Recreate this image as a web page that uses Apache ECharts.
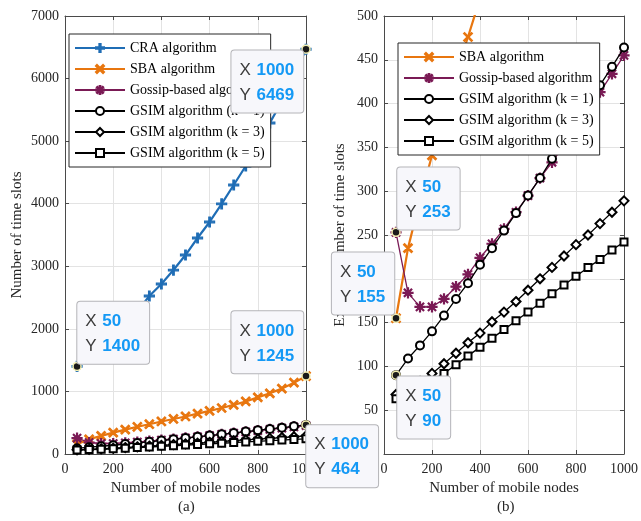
<!DOCTYPE html>
<html>
<head>
<meta charset="utf-8">
<script src="https://cdn.jsdelivr.net/npm/echarts@6/dist/echarts.min.js"></script>
<style>html,body{margin:0;padding:0;background:#fff}#c{width:641px;height:521px}</style>
</head>
<body>
<div id="c"></div>
<script>
const xNodes = [50,100,150,200,250,300,350,400,450,500,550,600,650,700,750,800,850,900,950,1000];
const craSlots = [1400,1560,1720,1880,2050,2280,2525,2717,2940,3180,3452,3708,3996,4299,4603,4938,5290,5640,6040,6469];
const sbaSlots = [155,235,290,341,390,435,476,520,560,600,645,690,735,785,840,905,970,1045,1140,1245];
const gossipSlots = [253,184,168,168,177,191,205,224,240,257,276,295,315,333,353,373,393,413,434,455];
const gsimK1 = [90,109,124,140,158,177,195,216,235,255,275,295,315,337,358,378,400,421,442,464];
const gsimK3 = [68,75,83,92,103,115,127,138,151,162,174,187,200,213,226,239,250,263,276,289];
const gsimK5 = [63,70,76,84,92,102,112,122,132,142,152,162,172,183,193,203,213,222,233,242];
const tipsLeft = [[1000,6469],[50,1400],[1000,1245],[1000,464]];
const tipsRight = [[50,253],[50,155],[50,90]];
const names = ['CRA algorithm','SBA algorithm','Gossip-based algorithm','GSIM algorithm (k = 1)','GSIM algorithm (k = 3)','GSIM algorithm (k = 5)'];

const serif = 'Liberation Serif';
const axCol = '#262626';
const lineCol = '#4a4a4a';
const pair = arr => xNodes.map((x,i)=>[x,arr[i]]);
const plain = v => String(v);

const PLUS = 'path://M4.2,0 L5.8,0 L5.8,10 L4.2,10 Z M0,4.2 L10,4.2 L10,5.8 L0,5.8 Z';
const CROSS = 'path://M0,1.2 L1.2,0 L10,8.8 L8.8,10 Z M8.8,0 L10,1.2 L1.2,10 L0,8.8 Z';
const STAR = 'path://M0,4.5 L10,4.5 L10,5.5 L0,5.5 Z M4.5,0 L5.5,0 L5.5,10 L4.5,10 Z M1,1.7 L1.7,1 L9,8.3 L8.3,9 Z M8.3,1 L9,1.7 L1.7,9 L1,8.3 Z';

const styles = [
  {color:'#1F6DB5', width:2.2, symbol:PLUS, size:10},
  {color:'#E8760F', width:2.2, symbol:CROSS, size:9},
  {color:'#7A1A55', width:1.3, symbol:STAR, size:10},
  {color:'#000000', width:1.3, symbol:'emptyCircle', size:8},
  {color:'#000000', width:1.3, symbol:'emptyDiamond', size:9},
  {color:'#000000', width:1.3, symbol:'emptyRect', size:7}
];
const dataSets = [craSlots, sbaSlots, gossipSlots, gsimK1, gsimK3, gsimK5];

function lineSeries(k, gi){
  const s = styles[k];
  return {
    type:'line', name:names[k], xAxisIndex:gi*2, yAxisIndex:gi*2,
    data: pair(dataSets[k]), symbol:s.symbol, symbolSize:s.size, showAllSymbol:true,
    lineStyle:{color:s.color, width:s.width}, itemStyle:{color:s.color, borderColor:s.color, borderWidth:1.2},
    emphasis:{disabled:true}, animation:false, z:2+k*0.01
  };
}

const tipPlaceLeft = [
  {position:[2,6], align:'right', verticalAlign:'top'},
  {position:[5,2], align:'left', verticalAlign:'bottom'},
  {position:[2,2], align:'right', verticalAlign:'bottom'},
  {position:[5,5], align:'left', verticalAlign:'top'}
];
const tipPlaceRight = [
  {position:[6,2], align:'left', verticalAlign:'bottom'},
  {position:[3,1], align:'right', verticalAlign:'bottom'},
  {position:[6,6], align:'left', verticalAlign:'top'}
];
function tipSeries(tips, places, gi){
  return {
    type:'scatter', name:'tip'+gi, xAxisIndex:gi*2, yAxisIndex:gi*2, clip:false, z:20, zlevel:1,
    symbol:'circle', symbolSize:8, animation:false, silent:true,
    itemStyle:{color:'#1a1a1a', borderColor:'#f3eeb0', borderWidth:1.5, opacity:1},
    emphasis:{disabled:true},
    data: tips.map((p,i)=>({value:p, label:Object.assign({
      show:true, opacity:1,
      formatter: '{k|X}{v|'+p[0]+'}\n{k|Y}{v|'+p[1]+'}',
      backgroundColor:'#f7f7fb', borderColor:'#b4b4b8', borderWidth:1, borderRadius:3,
      padding:[7,9,5,8], lineHeight:25,
      rich:{
        k:{fontFamily:'Liberation Sans', fontSize:17, color:'#3c3c3c', lineHeight:25, width:17, align:'left'},
        v:{fontFamily:'Liberation Sans', fontSize:17, fontWeight:'bold', color:'#1499f5', lineHeight:25, align:'left'}
      }
    }, places[i])}))
  };
}

function xAxes(gi){
  const base = {type:'value', gridIndex:gi, min:0, max:1000, interval:200};
  return [
    Object.assign({}, base, {position:'bottom',
      axisLine:{show:true, onZero:false, lineStyle:{color:lineCol, width:1}},
      axisTick:{show:true, inside:true, length:4, lineStyle:{color:lineCol}},
      axisLabel:{fontFamily:serif, fontSize:14, color:axCol, margin:8, formatter:plain},
      splitLine:{show:true, lineStyle:{color:'#e3e3e3', width:1}},
      name:'Number of mobile nodes', nameLocation:'middle', nameGap:25,
      nameTextStyle:{fontFamily:serif, fontSize:15, color:axCol}}),
    Object.assign({}, base, {position:'top',
      axisLine:{show:true, onZero:false, lineStyle:{color:lineCol, width:1}},
      axisTick:{show:true, inside:true, length:4, lineStyle:{color:lineCol}},
      axisLabel:{show:false}, splitLine:{show:false}})
  ];
}
function yAxes(gi, max, interval, name, gap){
  const base = {type:'value', gridIndex:gi, min:0, max:max, interval:interval};
  return [
    Object.assign({}, base, {position:'left',
      axisLine:{show:true, onZero:false, lineStyle:{color:lineCol, width:1}},
      axisTick:{show:true, inside:true, length:4, lineStyle:{color:lineCol}},
      axisLabel:{fontFamily:serif, fontSize:14, color:axCol, margin:6, formatter:plain},
      splitLine:{show:true, lineStyle:{color:'#e3e3e3', width:1}},
      name:name, nameLocation:'middle', nameGap:gap, nameRotate:90,
      nameTextStyle:{fontFamily:serif, fontSize:15, color:axCol}}),
    Object.assign({}, base, {position:'right',
      axisLine:{show:true, onZero:false, lineStyle:{color:lineCol, width:1}},
      axisTick:{show:true, inside:true, length:4, lineStyle:{color:lineCol}},
      axisLabel:{show:false}, splitLine:{show:false}})
  ];
}

const legendCommon = {
  orient:'vertical', itemWidth:50, itemHeight:10, itemGap:7,
  backgroundColor:'#ffffff', borderColor:axCol, borderWidth:1, borderRadius:0,
  textStyle:{fontFamily:serif, fontSize:14, color:'#000'}, selectedMode:false, z:5
};

const series = [];
for (let k=0;k<6;k++) series.push(lineSeries(k,0));
for (let k=1;k<6;k++) series.push(lineSeries(k,1));
series.push(tipSeries(tipsLeft, tipPlaceLeft, 0));
series.push(tipSeries(tipsRight, tipPlaceRight, 1));

const option = {
  animation:false,
  backgroundColor:'#ffffff',
  grid:[
    {left:65, top:16, width:241, height:438, containLabel:false},
    {left:384, top:16, width:242, height:438, containLabel:false}
  ],
  xAxis:[...xAxes(0), ...xAxes(1)],
  yAxis:[...yAxes(0,7000,1000,'Number of time slots',40), ...yAxes(1,500,50,'Expected number of time slots',36)],
  legend:[
    Object.assign({}, legendCommon, {left:69, top:34, padding:[7,6,7,5], data:names}),
    Object.assign({}, legendCommon, {left:398, top:43, padding:[7,6,7,5], data:names.slice(1)})
  ],
  graphic:[
    {type:'text', left:178, top:500, style:{text:'(a)', font:'15px "Liberation Serif"', fill:axCol}},
    {type:'text', left:497, top:500, style:{text:'(b)', font:'15px "Liberation Serif"', fill:axCol}}
  ],
  series: series
};
const chart = echarts.init(document.getElementById('c'), null, {renderer:'canvas'});
chart.setOption(option);
</script>
</body>
</html>
